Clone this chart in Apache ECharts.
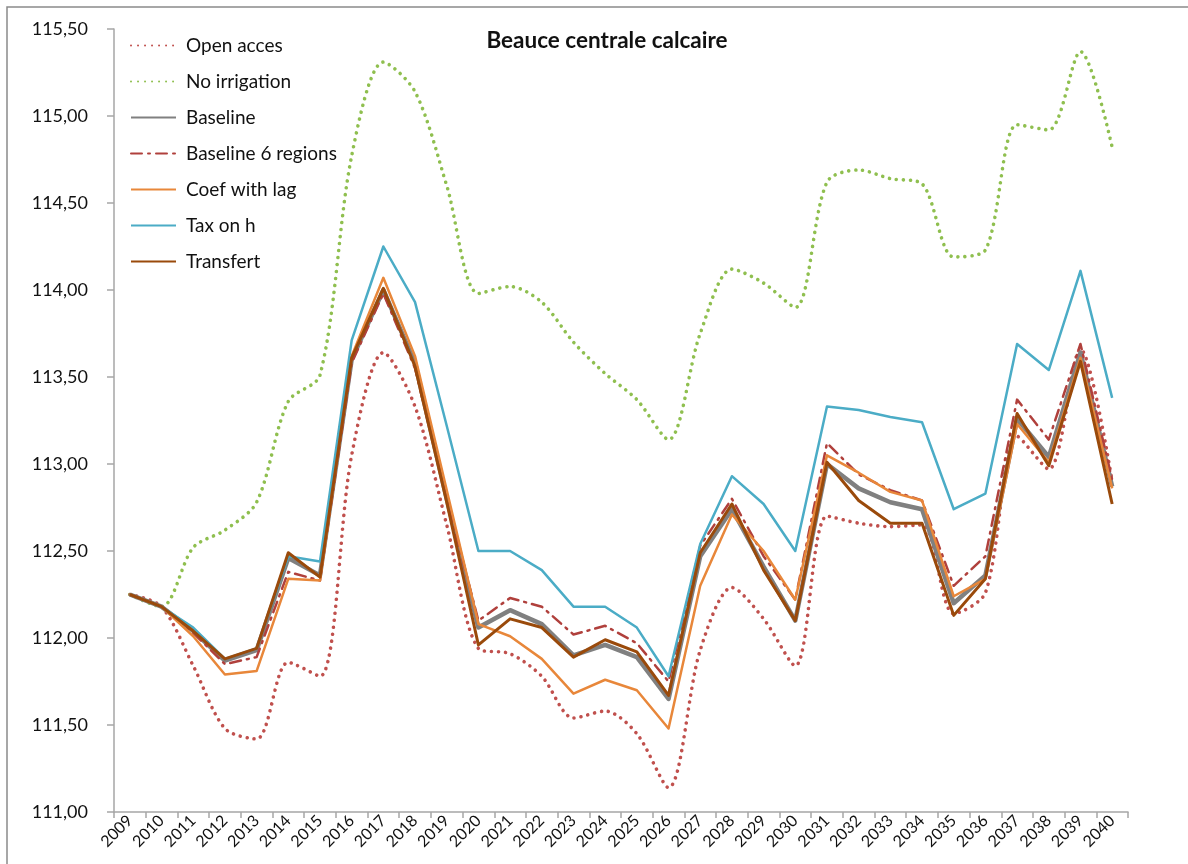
<!DOCTYPE html>
<html>
<head>
<meta charset="utf-8">
<script src="https://cdn.jsdelivr.net/npm/echarts@6/dist/echarts.min.js"></script>
<style>html,body{margin:0;padding:0;background:#fff}#c{width:1188px;height:864px}</style>
</head>
<body>
<div id="c"></div>
<script>
const years = ['2009','2010','2011','2012','2013','2014','2015','2016','2017','2018','2019','2020','2021','2022','2023','2024','2025','2026','2027','2028','2029','2030','2031','2032','2033','2034','2035','2036','2037','2038','2039','2040'];

const openAcces   = [112.25,112.18,111.84,111.48,111.42,111.86,111.78,113.05,113.64,113.33,112.65,111.94,111.91,111.78,111.54,111.58,111.45,111.14,111.93,112.29,112.11,111.84,112.70,112.66,112.64,112.65,112.14,112.26,113.16,112.97,113.66,112.90];
const noIrrigation= [112.25,112.18,112.52,112.62,112.78,113.36,113.51,114.77,115.31,115.14,114.60,113.98,114.02,113.93,113.70,113.52,113.37,113.14,113.75,114.12,114.04,113.90,114.62,114.69,114.64,114.61,114.19,114.23,114.95,114.92,115.37,114.82];
const baseline    = [112.25,112.18,112.04,111.87,111.93,112.46,112.36,113.60,114.00,113.58,112.80,112.06,112.16,112.08,111.90,111.96,111.89,111.65,112.47,112.74,112.41,112.10,113.00,112.86,112.78,112.74,112.20,112.36,113.26,113.04,113.64,112.87];
const baseline6   = [112.25,112.18,112.03,111.85,111.89,112.38,112.33,113.58,113.98,113.55,112.80,112.10,112.23,112.18,112.02,112.07,111.97,111.75,112.53,112.80,112.47,112.22,113.12,112.94,112.85,112.79,112.30,112.47,113.37,113.14,113.69,112.91];
const coefLag     = [112.25,112.18,112.01,111.79,111.81,112.34,112.33,113.62,114.07,113.62,112.85,112.08,112.01,111.88,111.68,111.76,111.70,111.48,112.30,112.71,112.50,112.22,113.05,112.95,112.84,112.79,112.24,112.34,113.23,113.01,113.61,112.86];
const taxOnH      = [112.25,112.18,112.06,111.88,111.94,112.47,112.44,113.71,114.25,113.93,113.22,112.50,112.50,112.39,112.18,112.18,112.06,111.78,112.54,112.93,112.77,112.50,113.33,113.31,113.27,113.24,112.74,112.83,113.69,113.54,114.11,113.38];
const transfert   = [112.25,112.18,112.04,111.88,111.94,112.49,112.35,113.61,114.01,113.56,112.78,111.96,112.11,112.06,111.89,111.99,111.92,111.67,112.49,112.77,112.39,112.10,113.01,112.79,112.66,112.66,112.13,112.34,113.29,112.99,113.59,112.77];

const yMin = 111, yMax = 115.5, yStep = 0.5;
const title = 'Beauce centrale calcaire';

const FONT = 'Lato, "Noto Sans", sans-serif';
const chart = echarts.init(document.getElementById('c'), null, {renderer: 'canvas'});

function mk(name, data, color, width, type, smooth) {
  return {
    name, type: 'line', data, symbol: 'none', smooth: smooth || false,
    lineStyle: {color, width, type, cap: Array.isArray(type) ? 'round' : 'butt', join: 'round'},
    itemStyle: {color, opacity: 0},
    emphasis: {disabled: true},
    animation: false
  };
}

chart.setOption({
  backgroundColor: '#fff',
  animation: false,
  title: {
    text: title, left: 602, top: 24, textAlign: 'center',
    textStyle: {fontFamily: FONT, fontSize: 22.5, fontWeight: 'bold', color: '#111'}
  },
  graphic: [{
    type: 'rect', shape: {x: 7, y: 7, width: 1300, height: 1000},
    style: {fill: 'none', stroke: '#8a8a8a', lineWidth: 1.5}, silent: true
  }],
  legend: {
    orient: 'vertical', left: 125, top: 31, itemWidth: 45, itemHeight: 12, itemGap: 17,
    itemStyle: {opacity: 0},
    textStyle: {fontFamily: FONT, fontSize: 19, lineHeight: 19, color: '#111', padding: [0, 0, 0, 5]},
    selectedMode: false,
    data: ['Open acces','No irrigation','Baseline','Baseline 6 regions','Coef with lag','Tax on h','Transfert']
  },
  grid: {left: 114, right: 60, top: 29, bottom: 52, containLabel: false},
  xAxis: {
    type: 'category', data: years, boundaryGap: true,
    axisLine: {lineStyle: {color: '#a6a6a6', width: 1.5}},
    axisTick: {show: true, length: 6, lineStyle: {color: '#a6a6a6', width: 1.5}},
    axisLabel: {rotate: 45, interval: 0, margin: 6, fontFamily: FONT, fontSize: 16, color: '#111'},
    splitLine: {show: false}
  },
  yAxis: {
    type: 'value', min: yMin, max: yMax, interval: yStep,
    axisLine: {show: true, lineStyle: {color: '#a6a6a6', width: 1.5}},
    axisTick: {show: true, length: 7, lineStyle: {color: '#a6a6a6', width: 1.5}},
    axisLabel: {margin: 26, fontFamily: FONT, fontSize: 18, color: '#111',
      formatter: v => v.toFixed(2).replace('.', ',')},
    splitLine: {show: false}
  },
  series: [
    mk('Open acces', openAcces, '#c0504d', 3.6, [0.01, 7], 0.3),
    mk('No irrigation', noIrrigation, '#8fbf4f', 3.6, [0.01, 7], 0.3),
    mk('Baseline', baseline, '#808080', 4.5, 'solid'),
    mk('Baseline 6 regions', baseline6, '#b0403c', 2.5, [11, 6, 2, 6]),
    mk('Coef with lag', coefLag, '#e8873a', 2.5, 'solid'),
    mk('Tax on h', taxOnH, '#4bacc6', 2.5, 'solid'),
    mk('Transfert', transfert, '#9a4a0b', 3, 'solid')
  ]
});
</script>
</body>
</html>
